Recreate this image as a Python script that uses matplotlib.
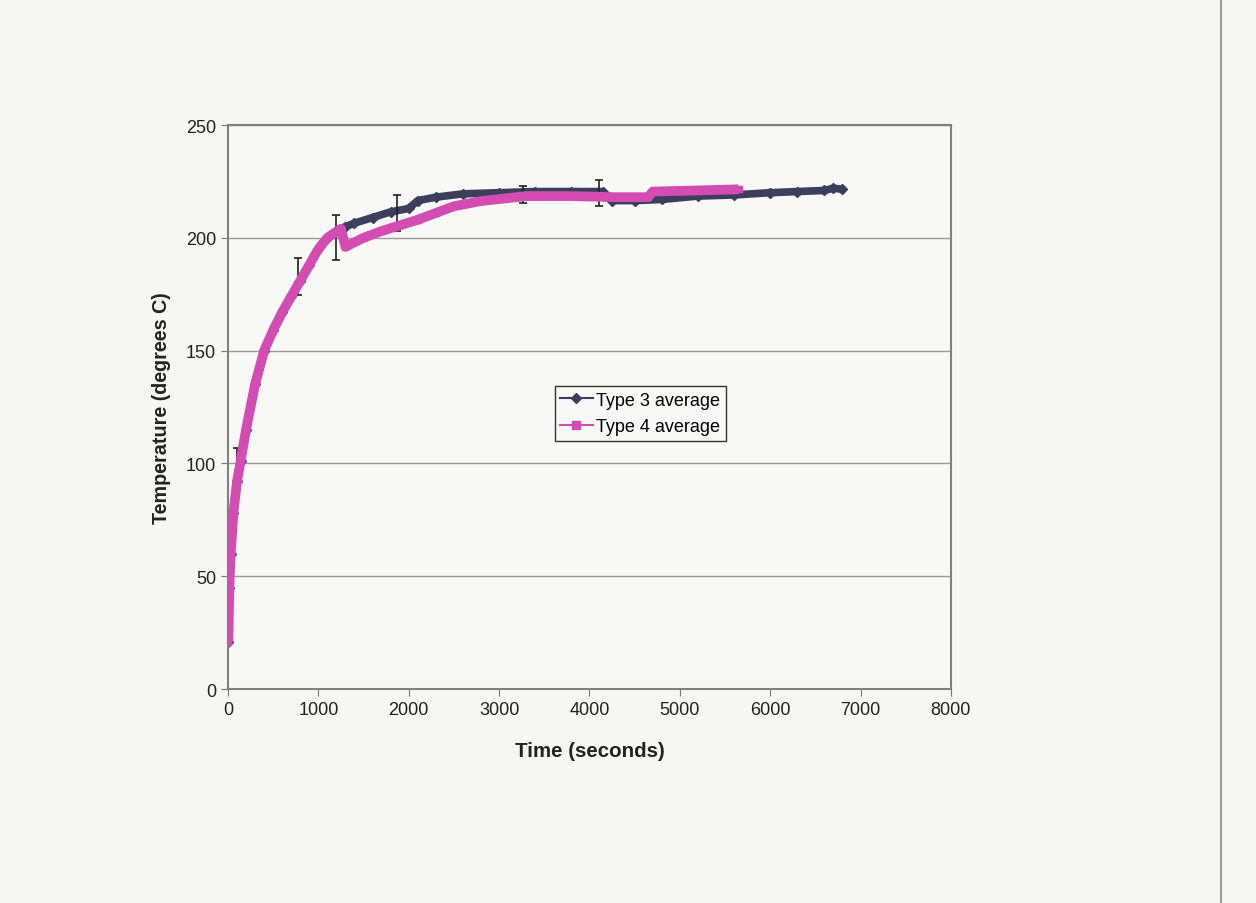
import matplotlib
matplotlib.use("Agg")
import matplotlib.pyplot as plt
from matplotlib.lines import Line2D

plt.rcParams['font.family'] = ['Liberation Sans', 'DejaVu Sans']

# Type 3 average (navy, diamonds)
t3 = [5, 15, 30, 60, 100, 140, 200, 300, 400, 500, 600, 700, 800, 900,
      1000, 1100, 1200, 1300, 1400, 1600, 1800, 2000, 2100, 2300, 2600,
      3000, 3400, 3800, 4150, 4250, 4500, 4800, 5200, 5600, 6000, 6300,
      6600, 6700, 6800]
T3 = [21, 45, 60, 78, 92, 101, 115, 135, 150, 159, 167, 174, 181, 188,
      195, 200, 203, 205, 206.5, 209, 211.5, 213, 216.5, 218, 219.5,
      220, 220.5, 220.5, 220.5, 216.5, 216.5, 217, 218.5, 219, 220, 220.5,
      221, 222, 221.5]

# error bars on type 3
err_t = [100, 780, 1190, 1870, 3270, 4110]
err_lo = [93, 174.5, 190, 203, 215.5, 214]
err_hi = [107, 191, 210, 219, 223, 225.5]

# Type 4 average (magenta, squares)
t4 = [5, 15, 30, 60, 100, 140, 200, 300, 400, 500, 600, 700, 800, 900,
      1000, 1100, 1250, 1300, 1500, 1700, 1900, 2100, 2300, 2500, 2800,
      3300, 3800, 4300, 4650, 4700, 5200, 5650]
T4 = [21, 45, 60, 78, 92, 101, 115, 135, 150, 159, 167, 174, 181, 188,
      195, 200, 204, 196, 200, 203, 205.5, 208, 211, 214, 216.3,
      218.5, 218.5, 218, 218, 220.5, 221, 221.5]

xticks = [0, 1000, 2000, 3000, 4000, 5000, 6000, 7000, 8000]
yticks = [0, 50, 100, 150, 200, 250]

navy = '#3b3f5c'
pink = '#d24cb2'
paper = '#f6f6f5'

fig = plt.figure(figsize=(12.56, 9.04), dpi=100, facecolor=paper)
ax = fig.add_axes([0.1815, 0.2367, 0.5756, 0.6239])
ax.set_facecolor('#f8f8f7')

ax.plot(t3, T3, color=navy, lw=5.5, marker='D', ms=5, solid_capstyle='round',
        solid_joinstyle='round', zorder=2)
mid = [(lo + hi) / 2 for lo, hi in zip(err_lo, err_hi)]
yerr = [[m - lo for m, lo in zip(mid, err_lo)],
        [hi - m for m, hi in zip(mid, err_hi)]]
ax.errorbar(err_t, mid, yerr=yerr, fmt='none', ecolor='#222222',
            elinewidth=1.2, capsize=3, capthick=1.2, zorder=3)
ax.plot(t4, T4, color=pink, lw=7, marker='s', ms=5, solid_capstyle='butt',
        solid_joinstyle='round', zorder=4)

ax.set_xlim(0, 8000)
ax.set_ylim(0, 250)
ax.set_xticks(xticks)
ax.set_yticks(yticks)
ax.tick_params(labelsize=13, length=5, color='#777777', direction='out',
               colors='#222222')
ax.yaxis.grid(True, color='#9a9a9a', lw=1)
ax.set_axisbelow(True)
for s in ax.spines.values():
    s.set_color('#808080')
    s.set_linewidth(1.5)

ax.set_xlabel('Time (seconds)', fontsize=14.8, fontweight='bold', color='#222222')
ax.set_ylabel('Temperature (degrees C)', fontsize=14.2, fontweight='bold',
              color='#222222')
ax.xaxis.set_label_coords(0.5, -0.092)
ax.yaxis.set_label_coords(-0.079, 0.5)

handles = [Line2D([], [], color=navy, marker='D', ms=5, lw=1.5),
           Line2D([], [], color=pink, marker='s', ms=6, lw=1.5)]
ax.legend(handles, ['Type 3 average', 'Type 4 average'], loc='upper left',
          bbox_to_anchor=(0.452, 0.537), borderaxespad=0, fontsize=13,
          frameon=True, fancybox=False, edgecolor='#333333',
          facecolor='#f8f8f7', framealpha=1, handlelength=1.8,
          borderpad=0.3, labelspacing=0.55, handletextpad=0.2)

# scan edge on the right
fig.add_artist(Line2D([0.972, 0.972], [0, 1], color='#9a9a9a', lw=1.5))

fig.savefig('out.png', dpi=100, facecolor=paper)
